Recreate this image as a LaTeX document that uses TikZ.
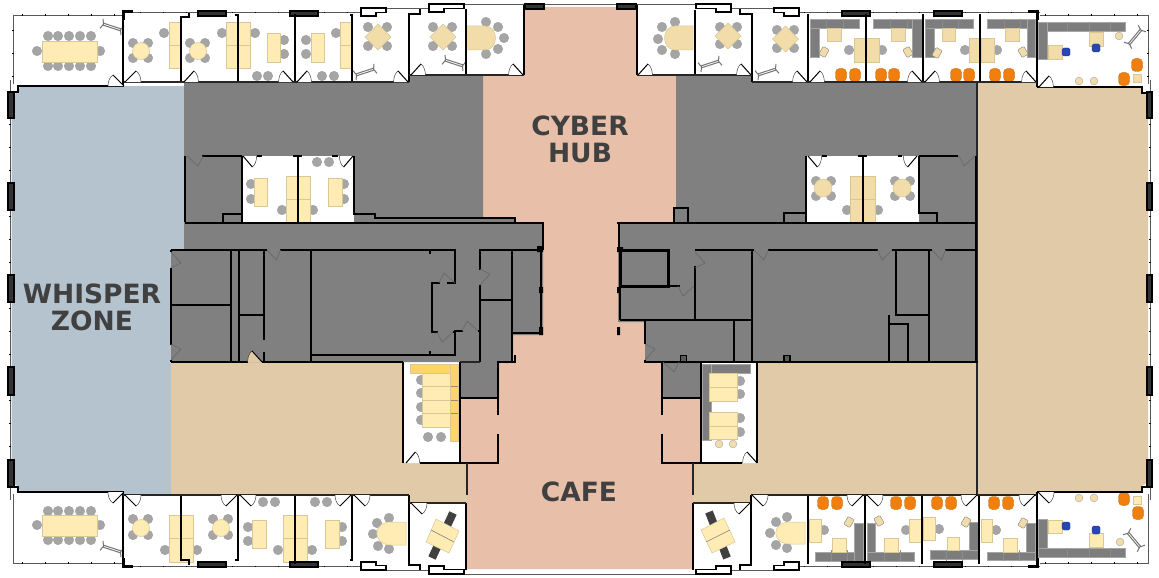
\documentclass[tikz,border=0pt]{standalone}
\usepackage{fontspec}
\setmainfont{DejaVu Sans}
\usetikzlibrary{positioning}
\definecolor{whisperBlue}{RGB}{181,195,207}
\definecolor{hubPink}{RGB}{232,191,169}
\definecolor{loungeTan}{RGB}{224,202,168}
\definecolor{coreGray}{RGB}{128,128,128}
\definecolor{deskCream}{RGB}{255,235,180}
\definecolor{deskTan}{RGB}{242,221,170}
\definecolor{deskEdge}{RGB}{215,200,150}
\definecolor{deskGold}{RGB}{255,212,107}
\definecolor{seatGray}{RGB}{165,165,165}
\definecolor{bankGray}{RGB}{125,125,125}
\definecolor{sofaOrange}{RGB}{240,127,14}
\definecolor{chairBlue}{RGB}{40,70,180}
\definecolor{labelInk}{RGB}{64,64,64}
\tikzset{
  wall/.style={draw=black,line width=2pt},
  thinwall/.style={draw=black!85,line width=1.3pt},
  heavywall/.style={draw=black,line width=3pt},
  glass/.style={draw=black!65,line width=.8pt},
  mullion/.style={draw=black,line width=1.6pt,dash pattern=on 1.4pt off 21.6pt},
  roomlabel/.style={font=\bfseries\fontsize{26.5}{27}\selectfont,text=labelInk,align=center,inner sep=0pt},
}
% furniture
\newcommand{\seatat}[2]{\filldraw[fill=seatGray,draw=black!40,line width=.3pt] (#1,#2) circle (4.8);}
\newcommand{\deskat}[5][deskCream]{\filldraw[fill=#1,draw=deskEdge,line width=.5pt] (#2,#3) rectangle (#4,#5);}
\newcommand{\roundtable}[4][deskCream]{\filldraw[fill=#1,draw=deskEdge,line width=.5pt] (#2,#3) circle (#4);}
\newcommand{\diamondtable}[2]{\filldraw[fill=deskTan,draw=deskEdge,line width=.5pt] (#1-13,#2) -- (#1,#2-13) -- (#1+13,#2) -- (#1,#2+13) -- cycle;}
\newcommand{\bankat}[4]{\filldraw[fill=bankGray,draw=black!35,line width=.4pt] (#1,#2) rectangle (#3,#4);}
\newcommand{\sofaat}[2]{\filldraw[fill=sofaOrange,draw=sofaOrange!80!black,line width=.3pt,rounded corners=4pt] (#1-5.5,#2-6.5) rectangle (#1+5.5,#2+6.5);}
\newcommand{\bluechair}[2]{\filldraw[fill=chairBlue,draw=chairBlue!70!black,line width=.3pt,rounded corners=1.5pt] (#1-4,#2-4) rectangle (#1+4,#2+4);}
\newcommand{\stoolat}[2]{\filldraw[fill=deskTan,draw=black!35,line width=.4pt] (#1,#2) circle (3.9);}
\newcommand{\tiltchair}[3]{\filldraw[fill=deskTan,draw=black!50,line width=.4pt,rotate around={#3:(#1,#2)},rounded corners=1pt] (#1-3.5,#2-4.5) rectangle (#1+3.5,#2+4.5);}
\newcommand{\lounge}[3]{\begin{scope}[shift={(#1,#2)},rotate=#3,draw=black!55,line width=1pt]
  \draw (-9,-1) -- (9,-1); \draw (-9,1) -- (9,1);
  \draw (-11,-5) -- (-9,0) -- (-11,5); \draw (11,-5) -- (9,0) -- (11,5);
\end{scope}}
\newcommand{\dtable}[5]{\filldraw[fill=deskTan,draw=deskEdge,line width=.5pt] (#1,#2) -- (#3,#2) .. controls (#3+#5*14,#2) and (#3+#5*14,#4) .. (#3,#4) -- (#1,#4) -- cycle;}
% doors: hinge at the origin of the scope, leaf to the tip, arc back to the wall
\newcommand{\doorw}[3][white]{\begin{scope}[shift={(#2)},#3]
  \fill[#1] (0,0) -- (-11,-11) .. controls (-14.5,-9) and (-16,-4) .. (-16,0) -- cycle;
  \draw[black!75,line width=.5pt] (-11,-11) .. controls (-14.5,-9) and (-16,-4) .. (-16,0);
  \draw[black,line width=1pt] (0,0) -- (-11,-11);
\end{scope}}
\newcommand{\graydoor}[2]{\begin{scope}[shift={(#1)},#2]
  \draw[black!60,line width=.6pt] (0,0) -- (-11,-10) -- (-16,0);
\end{scope}}
% windows
\newcommand{\windowat}[4]{\filldraw[fill=black!80,draw=black,line width=1.1pt] (#1,#2) rectangle (#3,#4);}
\newcommand{\notchwin}[6]{\begin{scope}[shift={(#1,#2)},xscale=#3,yscale=#4]
  \filldraw[fill=white,draw=black,line width=1.7pt] (0,0) -- (#5,0) -- (#5,4.5) -- (#6,4.5) -- (#6,8) -- (0,8) -- cycle;
\end{scope}}
\begin{document}
\begin{tikzpicture}[x=1pt,y=-1pt]
  \useasboundingbox (0,0) rectangle (1159,578);
  \fill[white] (0,0) rectangle (1159,578);
  % Floor zones
  \fill[hubPink] (524,7) -- (637,7) -- (637,76) -- (676,76) -- (676,222) -- (618,222) -- (618,322) -- (645,322)
    -- (645,362) -- (662,362) -- (662,398) -- (700,398) -- (700,463) -- (693,463) -- (693,569) -- (467,569)
    -- (467,463) -- (460,463) -- (460,398) -- (499,398) -- (499,362) -- (513,362) -- (513,335) -- (543,335)
    -- (543,222) -- (483,222) -- (483,76) -- (524,76) -- cycle;
  \fill[whisperBlue] (11.5,96) -- (18,92) -- (20,86) -- (184,86) -- (184,250) -- (171,250) -- (171,495) -- (123,495)
    -- (123,492) -- (20,492) -- (18,486) -- (11.5,483) -- cycle;
  \fill[loungeTan] (171,362) -- (403,362) -- (403,463) -- (467,463) -- (467,503) -- (410,503) -- (410,495) -- (171,495) -- cycle;
  \fill[loungeTan] (977,83) -- (1037,83) -- (1037,87) -- (1141,87) -- (1141,92) -- (1148,96) -- (1148,483) -- (1141,486)
    -- (1141,492) -- (1037,492) -- (1037,495) -- (752,495) -- (752,503) -- (693,503) -- (693,463) -- (757,463)
    -- (757,362) -- (977,362) -- cycle;
  \fill[coreGray] (184,82) -- (409,82) -- (409,76) -- (483,76) -- (483,218) -- (515,218) -- (515,222) -- (543,222)
    -- (543,335) -- (513,335) -- (513,362) -- (499,362) -- (499,398) -- (460,398) -- (460,362) -- (171,362)
    -- (171,250) -- (184,250) -- cycle;
  \fill[coreGray] (676,76) -- (752,76) -- (752,82) -- (977,82) -- (977,362) -- (700,362) -- (700,398) -- (662,398)
    -- (662,362) -- (645,362) -- (645,322) -- (618,322) -- (618,222) -- (673,222) -- (673,208) -- (676,208) -- cycle;
  % Inner white rooms
  \fill[white] (242,156) rectangle (354,222);
  \fill[white] (806,156) rectangle (919,222);
  \fill[white] (403,363) rectangle (460,463);
  \fill[white] (700,363) rectangle (757,463);
  % Top meeting room
  \foreach \x in {48,58,69,80,91} {\seatat{\x}{36} \seatat{\x}{66}}
  \seatat{37}{51} \seatat{100}{51}
  \deskat{42}{41}{97}{62}
  \lounge{112}{27}{-18}
  % Top row, left
  \foreach \x/\y in {133/43,148/43,133/58,148/58,190/43,205/43,190/58,205/58} {\seatat{\x}{\y}}
  \seatat{164}{33} \seatat{222}{33} \seatat{255}{33}
  \roundtable{141}{51}{8.5} \roundtable{198}{51}{8.5}
  \deskat{169}{22}{180}{45} \deskat{169}{45}{180}{68}
  \deskat{226}{22}{238}{45} \deskat{226}{45}{238}{68}
  \deskat{238}{22}{250}{45} \deskat{238}{45}{250}{68}
  \foreach \x/\y in {284/40,284/54,257/76,268/76,306/40,306/54,322/76,334/76,336/33} {\seatat{\x}{\y}}
  \deskat{267}{33}{280}{62} \deskat{311}{33}{324}{62}
  \deskat{340}{22}{351}{45} \deskat{340}{45}{351}{68}
  \foreach \x/\y in {368/27,387/27,368/46,387/46,433/27,452/27,433/46,452/46} {\seatat{\x}{\y}}
  \diamondtable{378}{37} \diamondtable{443}{37}
  \lounge{365}{72}{18} \lounge{454}{63}{-18}
  \foreach \x/\y in {486/22,498/27,504/38,498/49,486/54} {\seatat{\x}{\y}}
  \dtable{466}{26}{485}{50}{1}
  % Top row, right
  \foreach \x/\y in {675/22,662/27,658/39,662/50,675/54} {\seatat{\x}{\y}}
  \dtable{693}{26}{675}{50}{-1}
  \foreach \x/\y in {720/27,737/27,720/44,737/44,777/30,794/30,777/48,794/48} {\seatat{\x}{\y}}
  \diamondtable{728}{36} \diamondtable{785.5}{39}
  \lounge{710}{64}{18} \lounge{767}{72}{18}
  % Top row, workstations
  \bankat{810}{19}{819}{57} \bankat{810}{19}{859}{28}
  \bankat{873}{19}{922}{28} \bankat{912}{19}{922}{57}
  \bankat{925}{19}{934}{57} \bankat{925}{19}{973}{28}
  \bankat{987}{19}{1036}{28} \bankat{1027}{19}{1035}{57}
  \foreach \x in {826,843,890,907,942,958,1004,1020} {\draw[black!45,line width=.4pt] (\x,19) -- (\x,28);}
  \foreach \x in {849,882,965,997} {\seatat{\x}{50}}
  \deskat[deskTan]{827}{28}{841}{41} \deskat[deskTan]{891}{28}{905}{41}
  \deskat[deskTan]{942}{28}{955}{41} \deskat[deskTan]{1005}{28}{1019}{41}
  \deskat[deskTan]{854}{38}{866}{62} \deskat[deskTan]{866}{38}{879}{62}
  \deskat[deskTan]{969}{38}{981}{62} \deskat[deskTan]{981}{38}{994}{62}
  \tiltchair{824}{52}{-30} \tiltchair{908}{52}{30} \tiltchair{937}{53}{-30} \tiltchair{1023}{52}{30}
  \foreach \x in {841,855,881,894,956,969,995,1009} {\sofaat{\x}{75}}
  % Top right office
  \bankat{1038}{22}{1125}{31} \bankat{1038}{22}{1047}{59}
  \foreach \x in {1067,1089,1110} {\draw[black!45,line width=.4pt] (\x,22) -- (\x,31);}
  \deskat[deskTan]{1048}{45}{1062}{59} \deskat[deskTan]{1089}{32}{1103}{46}
  \bluechair{1066}{52} \bluechair{1096}{48}
  \stoolat{1119}{36} \stoolat{1079}{81} \stoolat{1094}{81}
  \lounge{1135}{37}{50}
  \sofaat{1137}{65} \sofaat{1124}{79}
  \deskat[deskTan]{1133}{74}{1141}{82}
  % Inner room, left
  \foreach \x/\y in {251/184,251/199,282/210,313/210,344/184,344/199,317/162,329/162} {\seatat{\x}{\y}}
  \deskat{254}{178}{267}{206} \deskat{328}{178}{342}{206}
  \deskat{286}{176}{297}{199} \deskat{286}{199}{297}{222}
  \deskat{298}{176}{310}{199} \deskat{298}{199}{310}{222}
  % Inner room, right
  \foreach \x/\y in {816/181,831/181,816/196,831/196,895/181,910/181,895/196,910/196,847/210,878/210} {\seatat{\x}{\y}}
  \roundtable[deskTan]{823}{188}{9} \roundtable[deskTan]{902}{188}{9}
  \deskat[deskTan]{850}{176}{862}{199} \deskat[deskTan]{850}{199}{862}{222}
  \deskat[deskTan]{863}{176}{875}{199} \deskat[deskTan]{863}{199}{875}{222}
  % Small room, left
  \deskat[deskGold]{410}{364}{458}{373} \deskat[deskGold]{450}{364}{458}{441}
  \foreach \y in {386,400,413} {\draw[deskEdge!70!black,line width=.4pt] (450,\y) -- (458,\y);}
  \foreach \y in {380,393,407,420} {\seatat{421}{\y}}
  \seatat{428}{437} \seatat{441}{437}
  \foreach \y/\z in {373/386,386/400,400/413,413/427} {\deskat{422}{\y}{450}{\z}}
  % Small room, right
  \bankat{702}{364}{750}{373} \bankat{702}{364}{711}{440}
  \foreach \y in {381,394,418,432} {\seatat{740}{\y}}
  \foreach \y/\z in {373/387,387/401,412/426,426/439} {\deskat{709}{\y}{737}{\z}}
  \stoolat{719}{444} \stoolat{733}{444}
  % Bottom meeting room
  \foreach \x in {48,58,69,80,91} {\seatat{\x}{511} \seatat{\x}{540}}
  \seatat{37}{525} \seatat{100}{525}
  \deskat{42}{515}{97}{536}
  \lounge{112}{549}{-18}
  % Bottom row, left
  \foreach \x/\y in {133/519,148/519,133/535,148/535,213/519,228/519,213/535,228/535,165/550,197/550} {\seatat{\x}{\y}}
  \roundtable{141}{528}{8.5} \roundtable{221}{528}{8.5}
  \deskat{169}{515}{181}{538} \deskat{169}{538}{181}{562}
  \deskat{181}{515}{193}{538} \deskat{181}{538}{193}{562}
  \foreach \x/\y in {248/527,248/541,278/550,263/502,275/502,342/527,342/541,312/550,315/502,327/502} {\seatat{\x}{\y}}
  \deskat{252}{520}{266}{548} \deskat{325}{520}{339}{548}
  \deskat{283}{515}{295}{538} \deskat{283}{538}{295}{562}
  \deskat{295}{515}{307}{538} \deskat{295}{538}{307}{562}
  \foreach \x/\y in {389/518,377/523,373/534,378/546,389/549} {\seatat{\x}{\y}}
  \filldraw[fill=deskCream,draw=deskEdge,line width=.5pt] (406,522) -- (391,522) .. controls (372,522) and (372,545) .. (391,545) -- (406,545) -- cycle;
  % Crossed desks
  \draw[black!75,line width=8pt] (453,513) -- (432,558);
  \filldraw[fill=deskCream,draw=deskEdge,line width=.5pt] (436,519) -- (459,531) -- (449,553) -- (426,542) -- cycle;
  \draw[black!50,line width=.6pt] (431,530) -- (454,542);
  \draw[black!75,line width=8pt] (709,512) -- (727,558);
  \filldraw[fill=deskCream,draw=deskEdge,line width=.5pt] (701,530) -- (724,518) -- (735,542) -- (712,553) -- cycle;
  \draw[black!50,line width=.6pt] (706,542) -- (730,530);
  % Bottom row, right
  \foreach \x/\y in {787/517,776/522,770/533,776/545,787/548,824/530} {\seatat{\x}{\y}}
  \filldraw[fill=deskCream,draw=deskEdge,line width=.5pt] (805,522) -- (790,522) .. controls (771,522) and (771,544) .. (790,544) -- (805,544) -- cycle;
  \deskat{809}{519}{821}{542}
  \bankat{815}{552}{863}{561} \bankat{854}{523}{863}{561}
  \bankat{867}{523}{875}{561} \bankat{867}{552}{914}{561}
  \bankat{969}{522}{978}{559} \bankat{930}{550}{978}{559}
  \bankat{1026}{523}{1035}{560} \bankat{987}{552}{1035}{560}
  \foreach \x in {831,847,884,900,946,962,1003,1019} {\draw[black!45,line width=.4pt] (\x,550) -- (\x,561);}
  \foreach \x/\y in {906/530,939/529,996/530} {\seatat{\x}{\y}}
  \deskat{832}{538}{846}{552} \deskat{884}{538}{898}{552} \deskat{947}{537}{959}{550} \deskat{1003}{538}{1017}{552}
  \deskat{909}{519}{921}{542} \deskat{923}{517}{935}{540} \deskat{981}{519}{992}{542}
  \tiltchair{849}{522}{-30} \tiltchair{879}{521}{30} \tiltchair{966}{522}{-30} \tiltchair{1023}{523}{-30}
  \foreach \x in {823,837,896,910,937,951,994,1008} {\sofaat{\x}{503}}
  % Bottom right office
  \bankat{1038}{519}{1047}{548} \bankat{1038}{548}{1125}{557}
  \foreach \x in {1067,1089,1110} {\draw[black!45,line width=.4pt] (\x,548) -- (\x,557);}
  \deskat{1048}{520}{1062}{533} \deskat{1089}{533}{1103}{547}
  \bluechair{1066}{526} \bluechair{1096}{530}
  \stoolat{1120}{542} \stoolat{1079}{498} \stoolat{1094}{498}
  \lounge{1134}{540}{-50}
  \sofaat{1124}{499} \sofaat{1138}{513}
  \deskat{1133}{496}{1141}{504}
  % Outer skin
  \draw[glass] (13,84) -- (13,15) -- (122,15);
  \draw[glass] (122,12.5) -- (361,12.5);
  \draw[glass] (361,8) -- (429,8);
  \draw[glass] (429,4.5) -- (731,4.5);
  \draw[glass] (731,8) -- (799,8);
  \draw[glass] (799,12.5) -- (1040,12.5);
  \draw[glass] (1040,15) -- (1148,15) -- (1148,84);
  \draw[glass] (13,494) -- (13,563) -- (122,563);
  \draw[glass] (122,566.5) -- (361,566.5);
  \draw[glass] (361,570) -- (429,570);
  \draw[glass] (429,574) -- (731,574);
  \draw[glass] (731,570) -- (799,570);
  \draw[glass] (799,566.5) -- (1040,566.5);
  \draw[glass] (1040,563) -- (1148,563) -- (1148,494);
  \draw[glass] (10,80) -- (10,500);
  \draw[glass] (1150,80) -- (1150,500);
  \draw[mullion] (10,124) -- (10,456);
  \draw[mullion] (1150,124) -- (1150,456);
  \draw[mullion] (13,30) -- (13,84);
  \draw[mullion] (1148,30) -- (1148,84);
  \draw[mullion] (140,12.5) -- (360,12.5);
  \draw[mullion] (804,12.5) -- (1020,12.5);
  \draw[mullion] (140,566.5) -- (360,566.5);
  \draw[mullion] (804,566.5) -- (1020,566.5);
  \draw[mullion] (22,563) -- (120,563);
  \draw[mullion] (1045,563) -- (1140,563);
  \draw[mullion] (22,15) -- (120,15);
  \draw[mullion] (1045,15) -- (1140,15);
  % Side windows
  \foreach \y/\z in {92/118,183/210,275/302,367/395,460/487} {\windowat{8}{\y}{14}{\z} \windowat{1147}{\y}{1152}{\z}}
  \foreach \x/\z in {198/226,290/318,842/870,934/962} {\windowat{\x}{11}{\z}{16} \windowat{\x}{562}{\z}{567}}
  \windowat{525}{4}{544}{9} \windowat{617}{4}{636}{9}
  % Stepped windows
  \notchwin{361}{8}{1}{1}{25}{15}
  \notchwin{429}{4}{1}{1}{35}{15}
  \notchwin{799}{8}{-1}{1}{25}{15}
  \notchwin{731}{4}{-1}{1}{35}{15}
  \notchwin{361}{570}{1}{-1}{25}{15}
  \notchwin{429}{574}{1}{-1}{35}{15}
  \notchwin{799}{570}{-1}{-1}{25}{15}
  \notchwin{731}{574}{-1}{-1}{35}{15}
  % Corner pieces
  \draw[heavywall] (123,20) -- (123,12) -- (133,12);
  \draw[heavywall] (1037,20) -- (1037,12) -- (1028,12);
  \draw[heavywall] (123,558) -- (123,566) -- (133,566);
  \draw[heavywall] (1037,558) -- (1037,566) -- (1028,566);
  \draw[wall] (14,92) -- (18,92) -- (18,86) -- (28,86);
  \draw[wall] (14,487) -- (18,487) -- (18,492) -- (28,492);
  \draw[wall] (1147,93) -- (1142,93) -- (1142,87) -- (1132,87);
  \draw[wall] (1147,487) -- (1142,487) -- (1142,492) -- (1132,492);
  % Top walls
  \draw[wall] (20,86) -- (123,86) -- (123,14);
  \draw[wall] (189,13) -- (189,17) -- (181,17) -- (181,82);
  \draw[wall] (235,15) -- (238,15) -- (238,82);
  \draw[wall] (295,14) -- (295,82);
  \draw[wall] (350,15) -- (352,15) -- (352,82);
  \draw[wall] (420,9) -- (420,14) -- (409,14) -- (409,82);
  \draw[wall] (466,9) -- (466,75);
  \draw[wall] (524,5) -- (524,75);
  \draw[wall] (637,5) -- (637,75);
  \draw[wall] (695,10) -- (695,75);
  \draw[wall] (740,9) -- (740,14) -- (752,14) -- (752,82);
  \draw[wall] (808,14) -- (808,82);
  \draw[wall] (866,14) -- (866,82);
  \draw[wall] (923,14) -- (923,82);
  \draw[wall] (980,14) -- (980,82);
  \draw[wall] (1037,14) -- (1037,87);
  \draw[wall] (1037,87) -- (1142,87);
  \draw[thinwall] (124,82) -- (184,82) (184,82) -- (409,82);
  \draw[thinwall] (409,75) -- (524,75);
  \draw[thinwall] (637,75) -- (752,75);
  \draw[thinwall] (752,82) -- (1037,82);
  % Bottom walls
  \draw[wall] (20,492) -- (123,492) -- (123,564);
  \draw[wall] (181,495) -- (181,560) -- (189,560) -- (189,565);
  \draw[wall] (238,495) -- (238,560) -- (235,560);
  \draw[wall] (295,495) -- (295,564);
  \draw[wall] (352,495) -- (352,560) -- (350,560);
  \draw[wall] (409,495) -- (409,565) -- (420,565) -- (420,570);
  \draw[wall] (466,503) -- (466,570);
  \draw[wall] (693,503) -- (693,570);
  \draw[wall] (740,570) -- (740,565) -- (751,565) -- (751,495);
  \draw[wall] (808,495) -- (808,564);
  \draw[wall] (865,495) -- (865,564);
  \draw[wall] (922,495) -- (922,564);
  \draw[wall] (979,495) -- (979,564);
  \draw[wall] (1037,492) -- (1037,559);
  \draw[wall] (1037,492) -- (1142,492);
  \draw[thinwall] (123,495) -- (409,495);
  \draw[thinwall] (409,503) -- (466,503);
  \draw[thinwall] (693,503) -- (751,503);
  \draw[thinwall] (751,495) -- (1037,495);
  \draw[thinwall] (977,83) -- (977,495);
  % Core walls, left
  \draw[wall] (202,156) -- (242,156);
  \draw[wall] (185,156) -- (185,222);
  \draw[wall] (223,222) -- (223,214) -- (242,214);
  \draw[wall] (242,156) -- (242,222);
  \draw[wall] (298,156) -- (298,222);
  \draw[wall] (354,156) -- (354,214) -- (375,214) -- (375,218) -- (515,218) -- (515,222);
  \draw[wall] (185,222.5) -- (543,222.5) -- (543,250);
  \draw[wall] (257,156) -- (262,156) (293,156) -- (302,156) (332,156) -- (338,156);
  \draw[wall] (171,250) -- (267,250);
  \draw[wall] (280,250) -- (455,250) -- (455,283) -- (447,283);
  \draw[wall] (440,283) -- (432,283) -- (432,332) -- (438,332);
  \draw[wall] (453,332) -- (455,332) -- (455,355) -- (311,355);
  \draw[wall] (430,250) -- (430,254) (430,351) -- (430,355);
  \draw[wall] (171,250) -- (171,252) (171,268) -- (171,345) (171,360) -- (171,362);
  \draw[wall] (171,305) -- (231,305);
  \draw[wall] (231,250) -- (231,362);
  \draw[wall] (239,250) -- (239,362);
  \draw[wall] (239,315) -- (263,315);
  \draw[wall] (263.5,250) -- (263.5,340);
  \draw[wall] (263.5,352) -- (263.5,362);
  \draw[wall] (311,250) -- (311,362);
  \draw[wall] (171,362) -- (248,362) (262,362) -- (403,362);
  \draw[wall] (403,362) -- (403,463);
  \draw[wall] (420,463) -- (498,463) -- (498,434);
  \draw[wall] (460,362) -- (460,463);
  \draw[wall] (460,398) -- (498,398);
  \draw[wall] (498,415) -- (498,362) -- (515,362) -- (515,355);
  \draw[wall] (480,362) -- (480,285);
  \draw[wall] (480,270) -- (480,250) -- (542,250);
  \draw[wall] (480,300) -- (512,300);
  \draw[wall] (512,250) -- (512,362);
  \draw[wall] (512,333) -- (541,333) -- (541,250);
  \draw[wall] (463,331) -- (455,331) -- (455,355);
  \draw[wall] (478,331) -- (480,331);
  \draw[thinwall] (460,362) -- (480,362);
  \draw[thinwall] (467,463) -- (467,495);
  \fill[black] (537,246) rectangle (543,252) (539,287) rectangle (543,293) (539,327) rectangle (543,335);
  % Core walls, right
  \draw[wall] (806,156) -- (806,222);
  \draw[wall] (863,156) -- (863,222);
  \draw[wall] (919,156) -- (919,213) -- (937,213) -- (937,222);
  \draw[wall] (919,156) -- (958,156);
  \draw[wall] (822,156) -- (827,156) (858,156) -- (867,156) (898,156) -- (902,156);
  \draw[wall] (975.5,156) -- (975.5,362);
  \draw[wall] (784,222) -- (784,213) -- (806,213);
  \draw[wall] (674,222) -- (674,208) -- (688,208) -- (688,222);
  \draw[wall] (617,222.5) -- (976,222.5);
  \draw[wall] (619,222.5) -- (619,250);
  \draw[heavywall] (620,250) -- (668,250) -- (668,286) -- (620,286) -- cycle;
  \draw[wall] (620,286) -- (620,320);
  \draw[wall] (668,286) -- (680,286);
  \draw[wall] (694,286) -- (695,286) -- (695,266);
  \draw[wall] (695,320) -- (695,286);
  \draw[wall] (695,250) -- (754,250);
  \draw[wall] (768,250) -- (878,250);
  \draw[wall] (892,250) -- (932,250);
  \draw[wall] (945,250) -- (976,250);
  \draw[wall] (752,250) -- (752,362);
  \draw[wall] (620,320) -- (752,320);
  \draw[wall] (734,320) -- (734,362);
  \draw[wall] (645,320) -- (645,344);
  \draw[wall] (645,360) -- (645,362) -- (978,362);
  \draw[wall] (896,250) -- (896,315) -- (928,315);
  \draw[wall] (889,315) -- (889,362);
  \draw[wall] (928.5,250) -- (928.5,362);
  \draw[wall] (889,324) -- (908,324) -- (908,362);
  \draw[wall] (662,362) -- (662,415);
  \draw[wall] (662,398) -- (700,398);
  \draw[wall] (662,434) -- (662,463) -- (742,463);
  \draw[wall] (700.5,362) -- (700.5,463);
  \draw[wall] (757,362) -- (757,463);
  \draw[thinwall] (693,463) -- (693,495);
  \draw[line width=1.3pt,fill=coreGray!70!black] (680.5,355.5) rectangle (686.5,361.5);
  \draw[line width=1.3pt,fill=coreGray!70!black] (784,355.5) rectangle (790,361.5);
  \fill[black] (617,247) rectangle (623,252) (617,287) rectangle (620,293) (617,327) rectangle (620,335);
  % Doors, perimeter rooms
  \doorw{124,86}{}
  \doorw{125,82}{xscale=-1}
  \doorw{184,82}{xscale=-.9}
  \doorw{293,82}{xscale=.9}
  \doorw{297,82}{xscale=-.9}
  \doorw{408,82}{xscale=.9}
  \doorw{411,75}{xscale=-.9}
  \doorw{523,75}{xscale=.9}
  \doorw{638,75}{xscale=-.9}
  \doorw{751,75}{xscale=.9}
  \doorw{807,82}{xscale=.9}
  \doorw{810,82}{xscale=-.9}
  \doorw{922,82}{xscale=.9}
  \doorw{925,82}{xscale=-.9}
  \doorw{1036,82}{xscale=.9}
  \doorw{1039,87}{xscale=-.9}
  \doorw{124,492}{yscale=-1}
  \doorw{125,495}{xscale=-1,yscale=-1}
  \doorw{237,495}{yscale=-1}
  \doorw{240,495}{xscale=-1,yscale=-1}
  \doorw{351,495}{yscale=-1}
  \doorw{354,495}{xscale=-1,yscale=-1}
  \doorw{411,503}{xscale=-1,yscale=-1}
  \doorw{750,503}{yscale=-1}
  \doorw{752,495}{xscale=-1,yscale=-1}
  \doorw{863,495}{yscale=-1}
  \doorw{867,495}{xscale=-1,yscale=-1}
  \doorw{977,495}{yscale=-1}
  \doorw{1035,495}{yscale=-1}
  \doorw{1038,492}{xscale=-1,yscale=-1}
  % Doors, inner rooms
  \doorw{243,156}{xscale=-.85,yscale=-1}
  \doorw{353,156}{xscale=.85,yscale=-1}
  \doorw{808,156}{xscale=-.85,yscale=-1}
  \doorw{917,156}{xscale=.85,yscale=-1}
  \doorw{406,463}{xscale=-.85}
  \doorw{757,463}{xscale=.9}
  \doorw[loungeTan]{262,362}{xscale=.9}
  % Doors, core
  \graydoor{187,156}{xscale=-1,yscale=-1}
  \graydoor{975,156}{yscale=-1}
  \graydoor{267,250}{xscale=-.85,yscale=-1}
  \graydoor{171,252}{rotate=-90,xscale=-1}
  \graydoor{171,360}{rotate=-90}
  \graydoor{480,285}{rotate=-90}
  \graydoor{455,283}{}
  \graydoor{453,332}{yscale=-1}
  \graydoor{478,331}{}
  \graydoor{694,286}{yscale=-1}
  \graydoor{695,252}{rotate=-90,xscale=-1}
  \graydoor{754,250}{xscale=-.9,yscale=-1}
  \graydoor{892,250}{xscale=.9,yscale=-1}
  \graydoor{932,250}{xscale=-.85,yscale=-1}
  \graydoor{645,360}{rotate=-90}
  \graydoor{663,362}{xscale=-1,yscale=-1}
  % Labels
  \node[roomlabel] (whisperzone) at (92,307.5) {WHISPER\\ZONE};
  \node[roomlabel] (cyberhub) at (580,139.5) {CYBER\\HUB};
  \node[roomlabel] (cafe) at (579,491.5) {CAFE};
\end{tikzpicture}
\end{document}
